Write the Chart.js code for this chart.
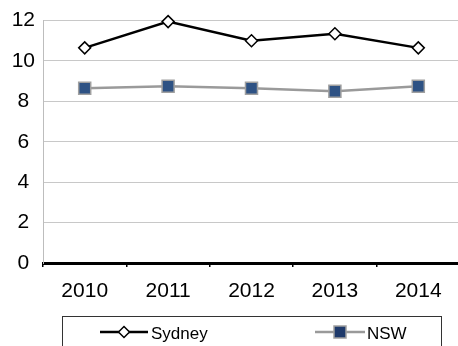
<!DOCTYPE html>
<html>
<head>
<meta charset="utf-8">
<script src="https://cdn.jsdelivr.net/npm/chart.js@4/dist/chart.umd.min.js"></script>
<style>
  html, body { margin: 0; padding: 0; background: #fff; overflow: hidden; }
  #wrap { position: relative; width: 470px; height: 346px; }
</style>
</head>
<body>
<div id="wrap"><canvas id="c" width="470" height="346"></canvas></div>
<script>
// Annual values, Sydney vs NSW
const years = ['2010', '2011', '2012', '2013', '2014'];
const sydney = [10.65, 11.95, 11.0, 11.35, 10.65];
const nsw = [8.65, 8.75, 8.65, 8.5, 8.75];
const yTicks = [0, 2, 4, 6, 8, 10, 12];

const FONT = 'Liberation Sans, Arial, Helvetica, sans-serif';

// Boxed legend along the bottom edge, styled after each dataset
const boxLegend = {
  id: 'boxLegend',
  afterDraw(chart) {
    const ctx = chart.ctx;
    ctx.save();
    ctx.strokeStyle = '#333';
    ctx.lineWidth = 1;
    ctx.strokeRect(62.5, 316.5, 379, 40);

    const items = [
      { ds: chart.data.datasets[0], x0: 100, x1: 148, label: 'Sydney', tx: 151 },
      { ds: chart.data.datasets[1], x0: 315, x1: 365, label: 'NSW', tx: 367 }
    ];
    const ly = 332;
    items.forEach(it => {
      const ds = it.ds;
      const cx = (it.x0 + it.x1) / 2;
      ctx.strokeStyle = ds.borderColor;
      ctx.lineWidth = ds.borderWidth;
      ctx.beginPath();
      ctx.moveTo(it.x0, ly);
      ctx.lineTo(it.x1, ly);
      ctx.stroke();
      ctx.fillStyle = ds.legendPointColor || ds.pointBackgroundColor;
      ctx.strokeStyle = ds.pointBorderColor;
      ctx.lineWidth = ds.pointBorderWidth;
      ctx.beginPath();
      if (ds.pointStyle === 'rectRot') {
        const r = 5.5;
        ctx.moveTo(cx - r, ly);
        ctx.lineTo(cx, ly - r);
        ctx.lineTo(cx + r, ly);
        ctx.lineTo(cx, ly + r);
        ctx.closePath();
      } else {
        ctx.rect(cx - 6, ly - 6, 12, 12);
      }
      ctx.fill();
      ctx.stroke();
      ctx.fillStyle = '#000';
      ctx.font = '17px ' + FONT;
      ctx.textAlign = 'left';
      ctx.textBaseline = 'alphabetic';
      ctx.fillText(it.label, it.tx, 339);
    });
    ctx.restore();
  }
};

new Chart(document.getElementById('c'), {
  type: 'line',
  data: {
    labels: years,
    datasets: [
      {
        label: 'Sydney',
        data: sydney,
        borderColor: '#000',
        borderWidth: 2.5,
        pointStyle: 'rectRot',
        pointRadius: 6,
        pointBackgroundColor: '#fff',
        pointBorderColor: '#000',
        pointBorderWidth: 1.5,
        tension: 0,
        clip: false
      },
      {
        label: 'NSW',
        data: nsw,
        borderColor: '#9a9a9a',
        borderWidth: 2.5,
        pointStyle: 'rect',
        pointRadius: 8.5,
        pointBackgroundColor: '#2e5284',
        legendPointColor: '#1f3a6b',
        pointBorderColor: '#a0a0a0',
        pointBorderWidth: 1.5,
        tension: 0,
        clip: false
      }
    ]
  },
  options: {
    responsive: false,
    animation: false,
    events: [],
    layout: { padding: { left: 0, right: 3, top: 16, bottom: 0 } },
    plugins: { legend: { display: false }, tooltip: { enabled: false } },
    scales: {
      x: {
        offset: true,
        grid: {
          offset: true,
          drawOnChartArea: false,
          drawTicks: true,
          tickLength: 4,
          color: '#000',
          lineWidth: 1.5
        },
        border: { color: '#000', width: 3 },
        ticks: {
          color: '#000',
          font: { family: FONT, size: 21 },
          padding: 12,
          maxRotation: 0
        },
        afterFit(s) { s.height = 83; }
      },
      y: {
        min: 0,
        max: 12,
        afterBuildTicks(s) { s.ticks = yTicks.map(v => ({ value: v })); },
        grid: { color: '#c8c8c8', lineWidth: 1, drawTicks: false },
        border: { color: '#bdbdbd', width: 1 },
        ticks: {
          color: '#000',
          font: { family: FONT, size: 21 },
          padding: 8,
          crossAlign: 'center'
        },
        afterFit(s) { s.width = 43; }
      }
    }
  },
  plugins: [boxLegend]
});
</script>
</body>
</html>
